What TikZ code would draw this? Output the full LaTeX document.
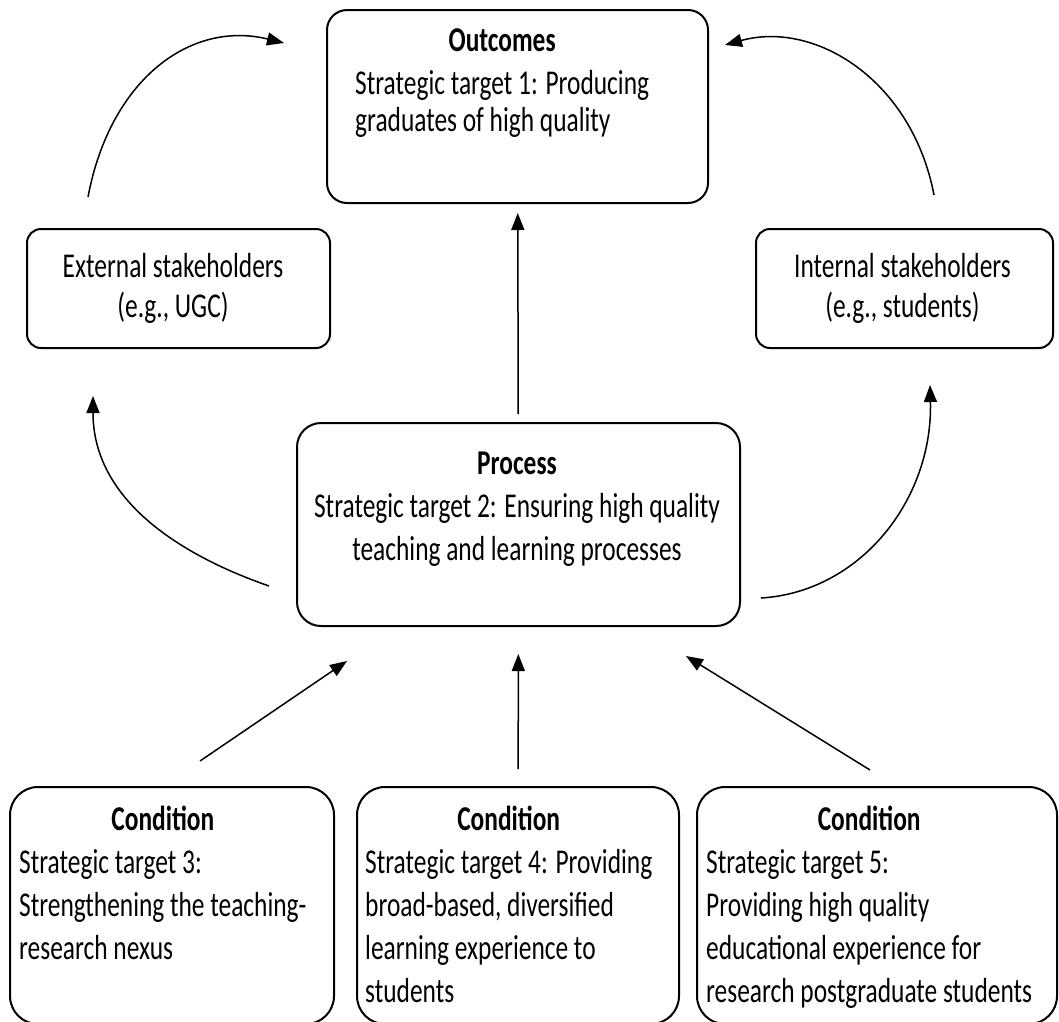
\documentclass[tikz,border=0pt]{standalone}
\usepackage{fontspec}
\setmainfont{Carlito}[FakeStretch=0.73]
\usetikzlibrary{arrows.meta}
\newcommand{\boxhead}[1]{\multicolumn{1}{@{}c@{}}{\bfseries #1}}

\begin{document}
\begin{tikzpicture}[x=1pt,y=-1pt,
	font=\fontsize{34.8}{43}\selectfont,
	box/.style={draw,line width=2pt,inner sep=0pt},
	txt/.style={inner sep=0pt},
	arr/.style={line width=1.5pt,-{Triangle[length=17pt,width=13pt]}}]
	\useasboundingbox (0,0) rectangle (1059,1021);
	% boxes
	\node[box,rounded corners=20pt,minimum width=381pt,minimum height=193pt] (outc) at (517.5,106.5) {};
	\node[box,rounded corners=14pt,minimum width=303pt,minimum height=119pt] (ext) at (178.5,288.5) {};
	\node[box,rounded corners=14pt,minimum width=297pt,minimum height=119pt] (int) at (904.5,288.5) {};
	\node[box,rounded corners=24pt,minimum width=443pt,minimum height=203pt] (proc) at (518.5,524.5) {};
	\node[box,rounded corners=28pt,minimum width=324pt,minimum height=237pt] (cond_1) at (172,905.5) {};
	\node[box,rounded corners=28pt,minimum width=322pt,minimum height=237pt] (cond_2) at (518,905.5) {};
	\node[box,rounded corners=28pt,minimum width=360pt,minimum height=237pt] (cond_3) at (877,905.5) {};
	% texts
	\node[txt,anchor=base west] (outc_t) at (355,51) {\begin{tabular}[t]{@{}l@{}}\boxhead{Outcomes}\\
		Strategic target 1: Producing\\[-6pt] graduates of high quality\end{tabular}};
	\node[txt,anchor=base] (ext_t) at (173,277) {\begin{tabular}[t]{@{}c@{}}External stakeholders\\[-3pt] (e.g., UGC)\end{tabular}};
	\node[txt,anchor=base] (int_t) at (902.5,277) {\begin{tabular}[t]{@{}c@{}}Internal stakeholders\\[-3pt] (e.g., students)\end{tabular}};
	\node[txt,anchor=base] (proc_t) at (517,474) {\begin{tabular}[t]{@{}c@{}}\bfseries Process\\
		Strategic target 2: Ensuring high quality\\ teaching and learning processes\end{tabular}};
	\node[txt,anchor=base west] (cond_1_t) at (19,830) {\begin{tabular}[t]{@{}l@{}}\boxhead{Condition}\\
		Strategic target 3:\\ Strengthening the teaching-\\ research nexus\end{tabular}};
	\node[txt,anchor=base west] (cond_2_t) at (365,830) {\begin{tabular}[t]{@{}l@{}}\boxhead{Condition}\\
		Strategic target 4: Providing\\ broad-based, diversified\\ learning experience to\\ students\end{tabular}};
	\node[txt,anchor=base west] (cond_3_t) at (706,830) {\begin{tabular}[t]{@{}l@{}}\boxhead{Condition}\\
		Strategic target 5:\\ Providing high quality\\ educational experience for\\ research postgraduate students\end{tabular}};
	% arrows
	\path[arr]
	(proc) edge [shorten <=8pt,shorten >=9pt] (outc)
	(cond_2) edge [shorten <=17pt,shorten >=27pt] (proc)
	([shift={(28,-25)}]cond_1.north) edge ([shift={(-171.5,34)}]proc.south)
	([shift={(-7,-16)}]cond_3.north) edge ([shift={(167.5,29)}]proc.south);
	\draw[arr] ([shift={(-27,61.5)}]proc.west) .. controls (180,555) and (93,500) .. ([shift={(-85.5,47)}]ext.south);
	\draw[arr] ([shift={(20,73.5)}]proc.east) .. controls (860,592) and (933,500) .. ([shift={(25.5,36)}]int.south);
	\draw[arr] ([shift={(-90.5,-31)}]ext.north) .. controls (110,80) and (190,20) .. ([shift={(-42,-63.5)}]outc.west);
	\draw[arr] ([shift={(29.5,-33)}]int.north) .. controls (912,80) and (815,20) .. ([shift={(16,-61.5)}]outc.east);
\end{tikzpicture}
\end{document}
